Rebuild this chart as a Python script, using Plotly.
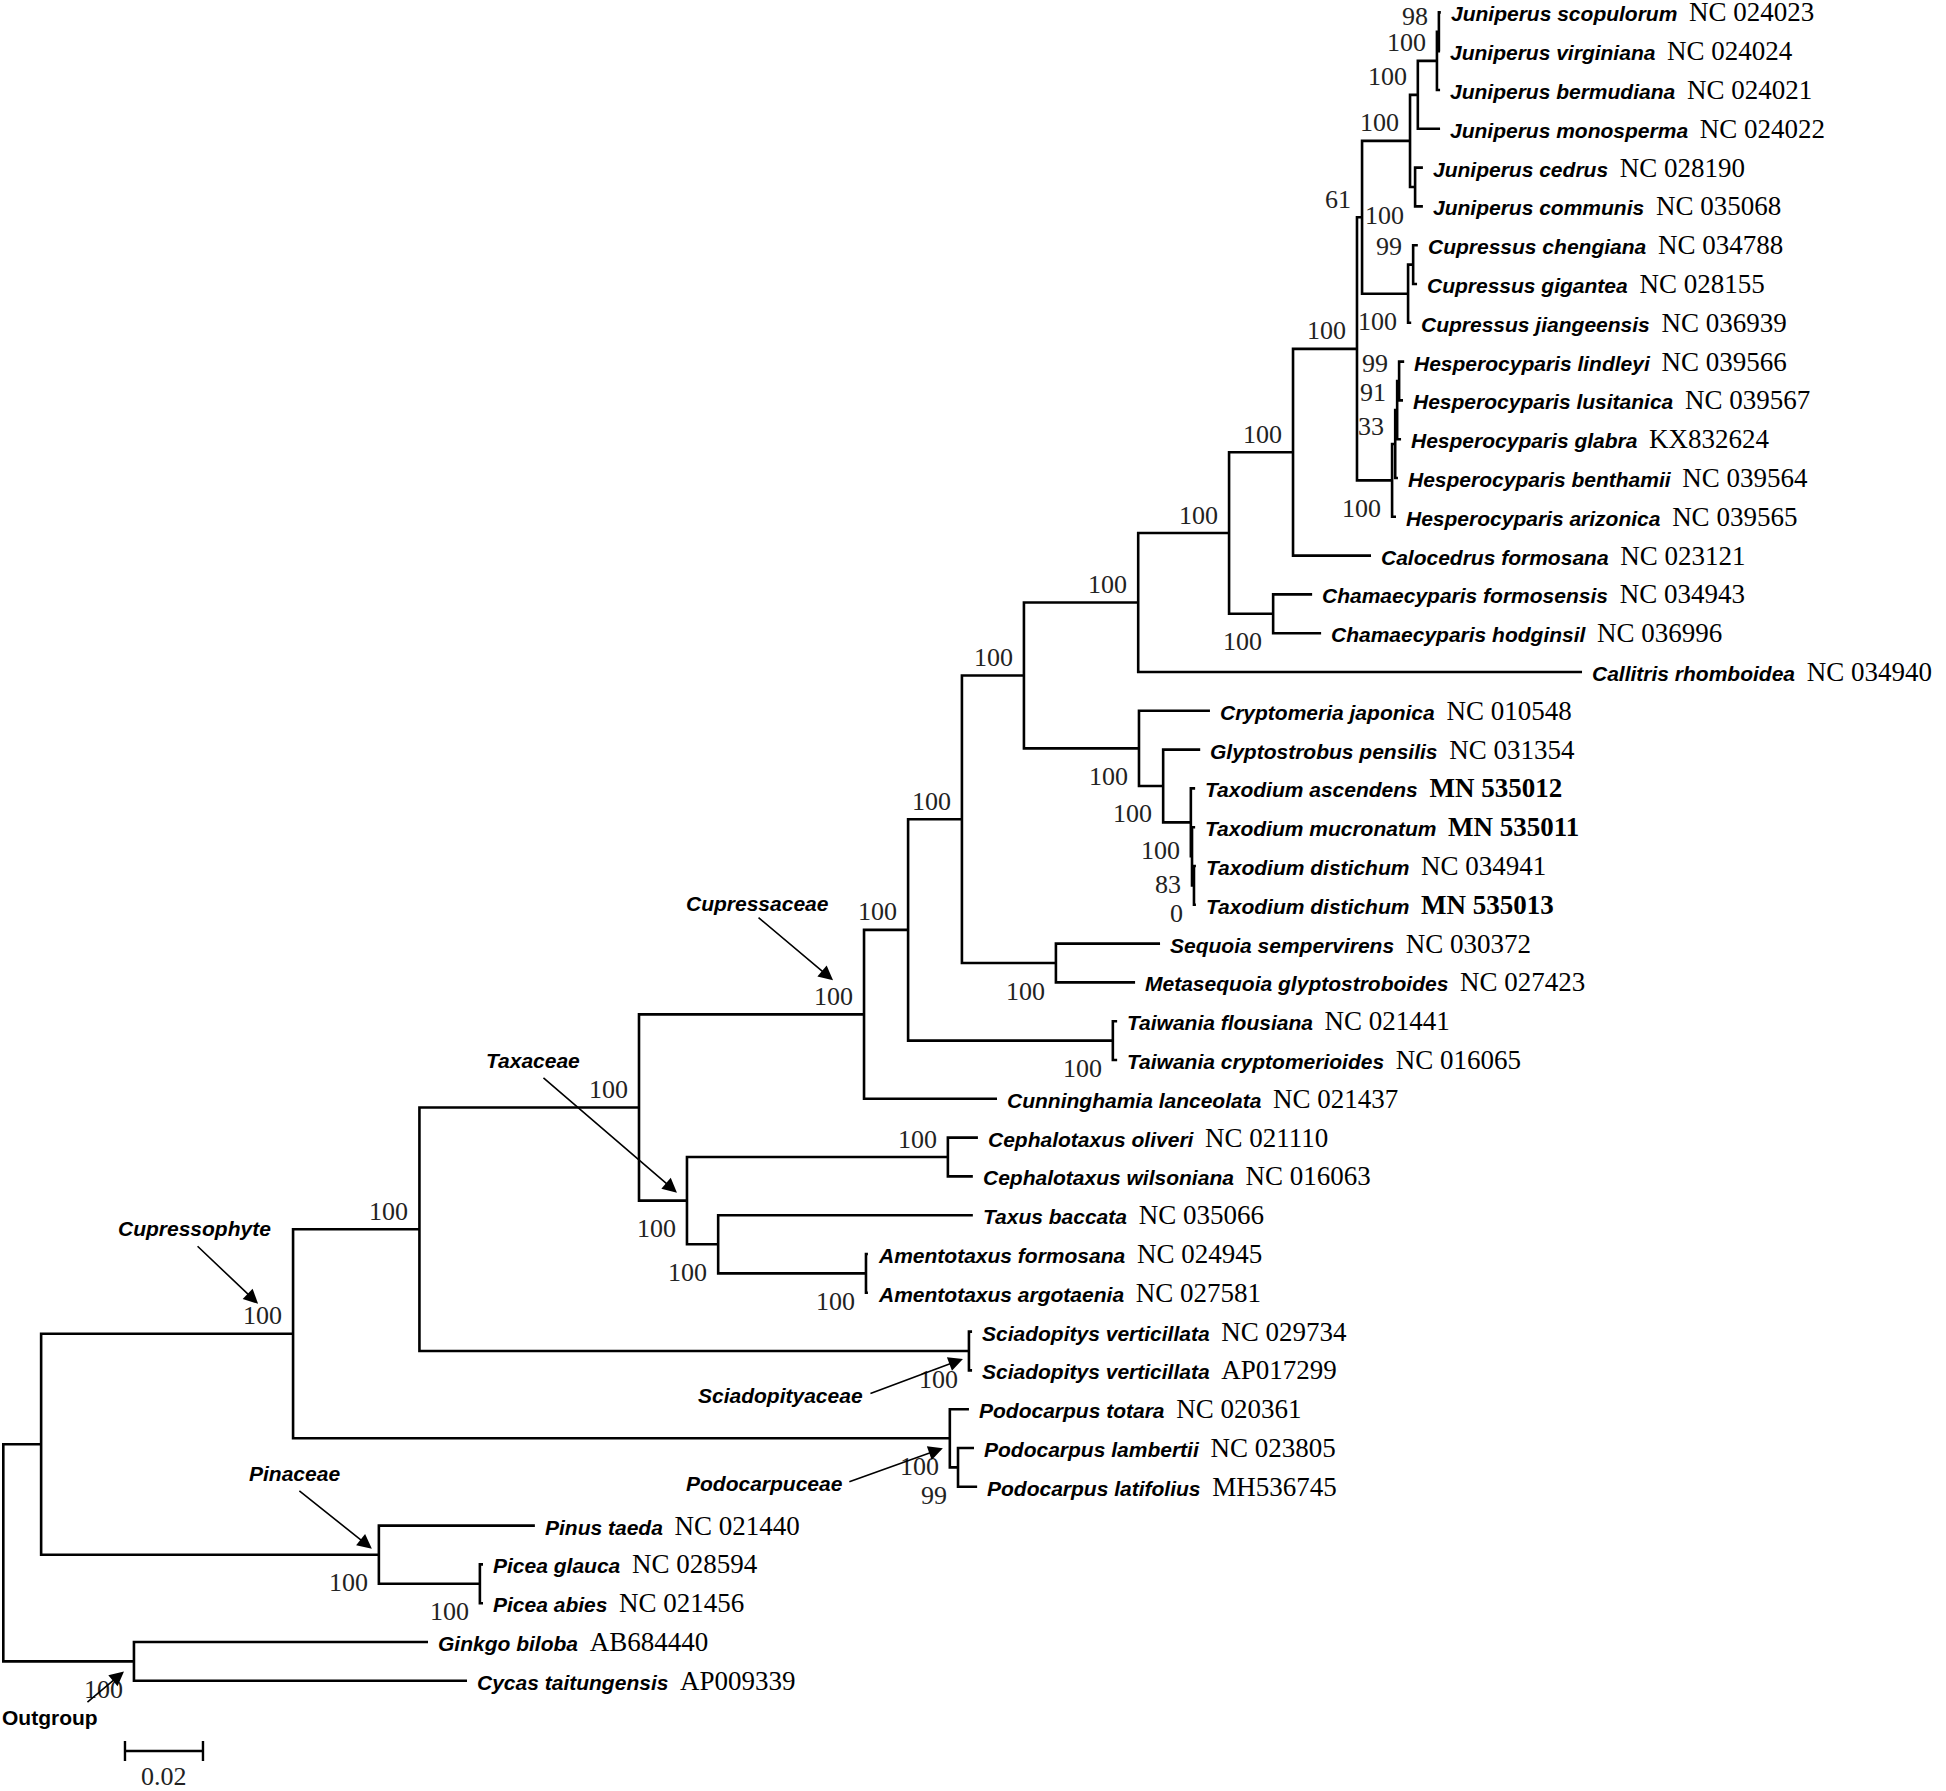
import plotly.graph_objects as go

# ---------------- data ----------------
leaf_names = [
    "Juniperus scopulorum", "Juniperus virginiana", "Juniperus bermudiana", "Juniperus monosperma",
    "Juniperus cedrus", "Juniperus communis", "Cupressus chengiana", "Cupressus gigantea",
    "Cupressus jiangeensis", "Hesperocyparis lindleyi", "Hesperocyparis lusitanica",
    "Hesperocyparis glabra", "Hesperocyparis benthamii", "Hesperocyparis arizonica",
    "Calocedrus formosana", "Chamaecyparis formosensis", "Chamaecyparis hodginsil",
    "Callitris rhomboidea", "Cryptomeria japonica", "Glyptostrobus pensilis",
    "Taxodium ascendens", "Taxodium mucronatum", "Taxodium distichum", "Taxodium distichum",
    "Sequoia sempervirens", "Metasequoia glyptostroboides", "Taiwania flousiana",
    "Taiwania cryptomerioides", "Cunninghamia lanceolata", "Cephalotaxus oliveri",
    "Cephalotaxus wilsoniana", "Taxus baccata", "Amentotaxus formosana", "Amentotaxus argotaenia",
    "Sciadopitys verticillata", "Sciadopitys verticillata", "Podocarpus totara",
    "Podocarpus lambertii", "Podocarpus latifolius", "Pinus taeda", "Picea glauca",
    "Picea abies", "Ginkgo biloba", "Cycas taitungensis",
]
leaf_accessions = [
    "NC 024023", "NC 024024", "NC 024021", "NC 024022", "NC 028190", "NC 035068",
    "NC 034788", "NC 028155", "NC 036939", "NC 039566", "NC 039567", "KX832624",
    "NC 039564", "NC 039565", "NC 023121", "NC 034943", "NC 036996", "NC 034940",
    "NC 010548", "NC 031354", "MN 535012", "MN 535011", "NC 034941", "MN 535013",
    "NC 030372", "NC 027423", "NC 021441", "NC 016065", "NC 021437", "NC 021110",
    "NC 016063", "NC 035066", "NC 024945", "NC 027581", "NC 029734", "AP017299",
    "NC 020361", "NC 023805", "MH536745", "NC 021440", "NC 028594", "NC 021456",
    "AB684440", "AP009339",
]
# distance from root (substitutions per site) of every tip
leaf_depths = [
    0.3686, 0.3684, 0.3684, 0.3684, 0.3640, 0.3640, 0.3627, 0.3625, 0.3610, 0.3592,
    0.3589, 0.3584, 0.3576, 0.3571, 0.3507, 0.3356, 0.3379, 0.4048, 0.3094, 0.3069,
    0.3056, 0.3056, 0.3058, 0.3058, 0.2966, 0.2902, 0.2856, 0.2856, 0.2548, 0.2499,
    0.2486, 0.2486, 0.2217, 0.2217, 0.2484, 0.2484, 0.2476, 0.2489, 0.2497, 0.1363,
    0.1230, 0.1230, 0.1089, 0.1189,
]

# internal nodes (children listed before parents); ints = tip index
node_ids = [
    "J00", "J0", "J1", "Jce", "J2", "Cu2", "Cu", "J3", "Hes1", "Hes2", "Hes3", "Hes4",
    "Q", "P", "Ch", "O", "K", "N3", "N2", "N", "M", "L", "J", "Se", "I", "Tw", "H", "D",
    "Ce", "Am", "G", "E", "C", "Sc", "B", "Po2", "Po", "CU", "Pc", "Pi", "A", "Og", "root",
]
node_children = [
    [0, 1], ["J00", 2], ["J0", 3], [4, 5], ["J1", "Jce"], [6, 7], ["Cu2", 8], ["J2", "Cu"],
    [9, 10], ["Hes1", 11], ["Hes2", 12], ["Hes3", 13], ["J3", "Hes4"], ["Q", 14], [15, 16],
    ["P", "Ch"], ["O", 17], [22, 23], [21, "N3"], [20, "N2"], [19, "N"], [18, "M"], ["K", "L"],
    [24, 25], ["J", "Se"], [26, 27], ["I", "Tw"], ["H", 28], [29, 30], [32, 33], [31, "Am"],
    ["Ce", "G"], ["D", "E"], [34, 35], ["C", "Sc"], [37, 38], [36, "Po2"], ["B", "Po"],
    [40, 41], [39, "Pc"], ["CU", "Pi"], [42, 43], ["A", "Og"],
]
node_depths = [
    0.3681, 0.3676, 0.3627, 0.3620, 0.3607, 0.3615, 0.3602, 0.3484, 0.3579, 0.3574,
    0.3569, 0.3561, 0.3471, 0.3307, 0.3256, 0.3143, 0.2910, 0.3053, 0.3048, 0.3045,
    0.2974, 0.2912, 0.2617, 0.2699, 0.2458, 0.2845, 0.2320, 0.2207, 0.2422, 0.2212,
    0.1833, 0.1753, 0.1630, 0.2476, 0.1067, 0.2448, 0.2427, 0.0743, 0.1222, 0.0963,
    0.0097, 0.0335, 0.0,
]
node_support = [
    98, 100, 100, 100, 100, 99, 100, 61, 99, 91, 33, 100,
    100, 100, 100, 100, 100, 0, 83, 100, 100, 100, 100, 100, 100, 100, 100, 100,
    100, 100, 100, 100, 100, 100, 100, 99, 100, 100, 100, 100, None, 100, None,
]
node_label_side = [
    "a", "a", "a", "b", "a", "a", "b", "a", "a", "a", "a", "b",
    "a", "a", "b", "a", "a", "b", "b", "b", "b", "b", "a", "b", "a", "b", "a", "a",
    "a", "b", "b", "b", "a", "b", "a", "b", "b", "a", "b", "b", None, "b", None,
]

clade_names = ["Cupressaceae", "Taxaceae", "Cupressophyte", "Pinaceae",
               "Sciadopityaceae", "Podocarpuceae", "Outgroup"]
clade_nodes = ["D", "E", "CU", "Pi", "Sc", "Po", "Og"]

scale_bar_start = 0.0312
scale_bar_length = 0.02
scale_bar_label = "0.02"

# ---------------- geometry helpers ----------------
W, H = 1946, 1791
PX_PER_UNIT = 3900.0
X0_PX = 3.3
ROW_PX = 38.8
ROW0_PX = 12.4

xpos, ypos = {}, {}
for i, d in enumerate(leaf_depths):
    xpos[i] = d
    ypos[i] = float(i)
for nid, ch, d in zip(node_ids, node_children, node_depths):
    xpos[nid] = d
    ypos[nid] = sum(ypos[c] for c in ch) / len(ch)

lx, ly = [], []
for nid, ch in zip(node_ids, node_children):
    c1, c2 = ch
    lx += [xpos[c1], xpos[nid], xpos[nid], xpos[c2], None]
    ly += [ypos[c1], ypos[c1], ypos[c2], ypos[c2], None]

fig = go.Figure()
fig.add_trace(go.Scatter(x=lx, y=ly, mode="lines",
                         line=dict(color="black", width=2.6),
                         hoverinfo="skip", showlegend=False))

# scale bar
sb_y = (1751 - ROW0_PX) / ROW_PX
tick = 10 / ROW_PX
sx0, sx1 = scale_bar_start, scale_bar_start + scale_bar_length
fig.add_trace(go.Scatter(
    x=[sx0, sx1, None, sx0, sx0, None, sx1, sx1],
    y=[sb_y, sb_y, None, sb_y - tick, sb_y + tick, None, sb_y - tick, sb_y + tick],
    mode="lines", line=dict(color="black", width=2.4),
    hoverinfo="skip", showlegend=False))

ann = []
SANS = "Liberation Sans, Arial, sans-serif"
SERIF = "Liberation Serif, Times New Roman, serif"

# tip labels
for i, (nm, acc) in enumerate(zip(leaf_names, leaf_accessions)):
    acc_html = f"<span style='font-family:Liberation Serif;font-size:27px'>{acc}</span>"
    if acc.startswith("MN"):
        acc_html = f"<b>{acc_html}</b>"
    ann.append(dict(x=xpos[i], y=ypos[i], xref="x", yref="y",
                    text=f"<b><i>{nm}</i></b>&nbsp; {acc_html}",
                    showarrow=False, xanchor="left", yanchor="middle", xshift=8,
                    font=dict(family=SANS, size=21, color="black")))

# bootstrap values
for nid, s, side in zip(node_ids, node_support, node_label_side):
    if s is None:
        continue
    node_px = ROW0_PX + ypos[nid] * ROW_PX
    ys = 18 if side == "a" else -28
    ys = min(ys, node_px - 16)  # keep the label inside the page
    ann.append(dict(x=xpos[nid], y=ypos[nid], xref="x", yref="y", text=str(s),
                    showarrow=False, xanchor="right", yanchor="middle",
                    xshift=-9, yshift=ys,
                    font=dict(family=SERIF, size=26, color="#222")))

# clade labels with arrows (offsets in pixels relative to the node)
text_off = [(-107, -111), (-154, -140), (-99, -105), (-84, -81), (-188, 44), (-185, 45), (-84, 56)]
tip_off = [(-31, -34), (-10, -8), (-35, -30), (-7, -6), (-6, 8), (-7, 10), (-10, 10)]
tail_off = [(-76, -64), (-135, -116), (-62, -59), (-74, -59), (-94, 35), (-95, 34), (-38, 32)]
for nm, nd, to, tp, tl in zip(clade_names, clade_nodes, text_off, tip_off, tail_off):
    txt = f"<b>{nm}</b>" if nm == "Outgroup" else f"<b><i>{nm}</i></b>"
    ann.append(dict(x=xpos[nd], y=ypos[nd], xref="x", yref="y", text=txt,
                    showarrow=False, xanchor="center", yanchor="middle",
                    xshift=to[0], yshift=-to[1],
                    font=dict(family=SANS, size=21, color="black")))
    ann.append(dict(x=xpos[nd] + tp[0] / PX_PER_UNIT, y=ypos[nd] + tp[1] / ROW_PX,
                    xref="x", yref="y", text="", showarrow=True,
                    ax=tl[0], ay=tl[1], axref="pixel", ayref="pixel",
                    arrowhead=2, arrowsize=1.8, arrowwidth=1.6, arrowcolor="black",
                    standoff=0, startstandoff=0))

# scale label
ann.append(dict(x=sx0 + scale_bar_length / 2, y=sb_y, xref="x", yref="y",
                text=scale_bar_label, showarrow=False, yshift=-25,
                xanchor="center", yanchor="middle",
                font=dict(family=SERIF, size=26, color="#222")))

fig.update_layout(
    width=W, height=H, margin=dict(l=0, r=0, t=0, b=0),
    paper_bgcolor="white", plot_bgcolor="white",
    xaxis=dict(range=[-X0_PX / PX_PER_UNIT, (W - X0_PX) / PX_PER_UNIT],
               visible=False, fixedrange=True),
    yaxis=dict(range=[(H - ROW0_PX) / ROW_PX, -ROW0_PX / ROW_PX],
               visible=False, fixedrange=True),
    annotations=ann, showlegend=False,
)

fig.write_html("out.html", config={"displayModeBar": False},
               post_script="document.body.style.margin='0';document.body.style.overflow='hidden';")
